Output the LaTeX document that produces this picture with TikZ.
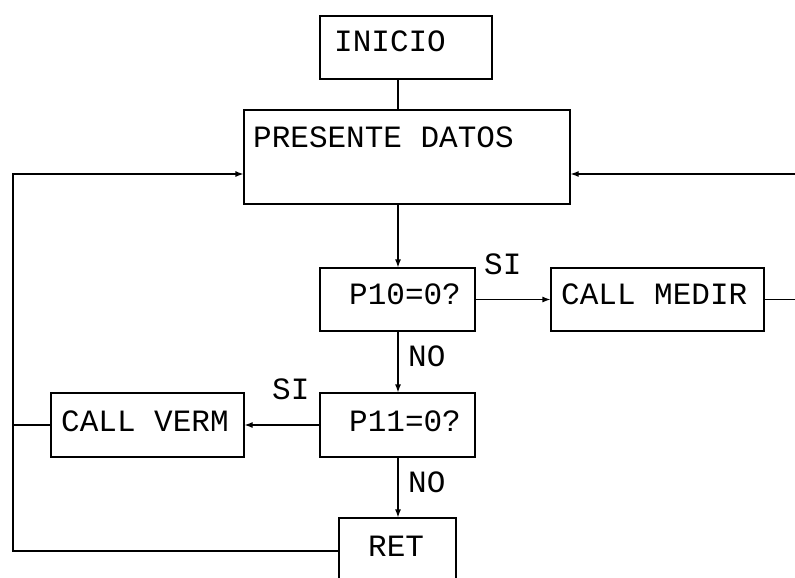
\documentclass[tikz,border=0pt]{standalone}
\usepackage{fontspec}
\setmonofont{Liberation Mono}
\usetikzlibrary{arrows.meta}
\begin{document}
\begin{tikzpicture}[x=1pt,y=-1pt,
  box/.style={draw, line width=1.2pt, inner sep=0pt},
  txt/.style={font=\ttfamily\fontsize{31}{31}\selectfont, inner sep=0pt, anchor=base west},
  conn/.style={line width=1.2pt},
  arr/.style={line width=1.2pt, -{Latex[length=8pt,width=6pt]}}]
\clip (0,0) rectangle (795,578);
\fill[white] (0,0) rectangle (795,578);
\coordinate (spine) at (398,0);
\coordinate (lj) at (13,174);
\coordinate (lb) at (13,551);
\coordinate (rj) at (805,174);
\coordinate (rb) at (805,299.5);
% boxes
\node[box, minimum width=172pt, minimum height=63pt] (inicio) at (406,47.5) {};
\node[box, minimum width=326pt, minimum height=94pt] (datos) at (407,157) {};
\node[box, minimum width=155pt, minimum height=63pt] (p10) at (397.5,299.5) {};
\node[box, minimum width=213pt, minimum height=63pt] (medir) at (657.5,299.5) {};
\node[box, minimum width=155pt, minimum height=64pt] (p11) at (397.5,425) {};
\node[box, minimum width=193pt, minimum height=64pt] (verm) at (147.5,425) {};
\node[box, minimum width=117pt, minimum height=92pt] (ret) at (397.5,564) {};
% texts
\node[txt] (tinicio) at (334,52) {INICIO};
\node[txt] (tdatos) at (253,147) {PRESENTE DATOS};
\node[txt] (tp10) at (349,304) {P10=0?};
\node[txt] (tmedir) at (561,304) {CALL MEDIR};
\node[txt] (tp11) at (349,431) {P11=0?};
\node[txt] (tverm) at (61,431) {CALL VERM};
\node[txt] (tret) at (368,556) {RET};
\node[txt] (si1) at (484,274) {SI};
\node[txt] (si2) at (272,399) {SI};
\node[txt] (no1) at (408,366) {NO};
\node[txt] (no2) at (408,492) {NO};
% connectors
\draw[conn] (inicio.south -| spine) -- (datos.north -| spine);
\draw[arr] (datos.south -| spine) -- (p10.north -| spine);
\draw[arr] (p10.south -| spine) -- (p11.north -| spine);
\draw[arr] (p11.south -| spine) -- (ret.north -| spine);
\draw[arr] (p10.east) -- (medir.west);
\draw[arr] (medir.east) -- (rb) -- (rj) -- (rj -| datos.east);
\draw[arr] (p11.west) -- (verm.east);
\draw[conn] (verm.west) -- (verm.west -| lj);
\draw[arr] (lb -| ret.west) -- (lb) -- (lj) -- (lj -| datos.west);
\end{tikzpicture}
\end{document}
